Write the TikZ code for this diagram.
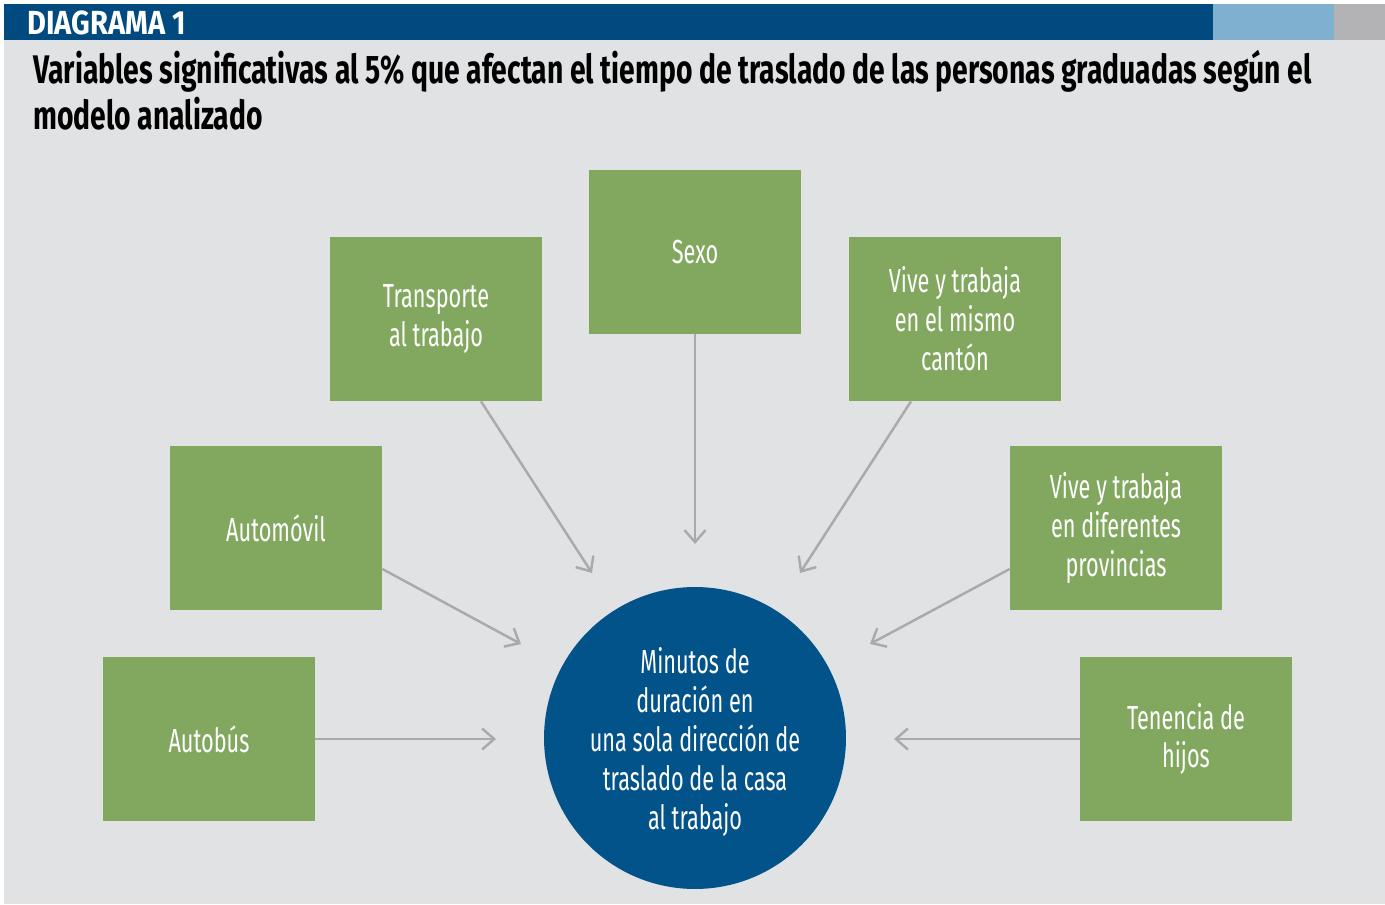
\documentclass[tikz,border=0pt]{standalone}
\usepackage{fontspec}
\setmainfont{Fira Sans}[FakeStretch=0.65]
\newfontfamily\titlefont{Fira Sans}[FakeStretch=0.709]
\newfontfamily\headfont{Fira Sans}[FakeStretch=0.87]
\usetikzlibrary{arrows.meta}
\definecolor{headblue}{HTML}{004A7F}
\definecolor{circblue}{HTML}{02538A}
\definecolor{boxgreen}{HTML}{82A860}
\definecolor{bggray}{HTML}{E1E2E4}
\definecolor{lightblue}{HTML}{7FB0CF}
\definecolor{hgray}{HTML}{B3B3B5}
\definecolor{arrgray}{HTML}{AAAAAA}
\begin{document}
\begin{tikzpicture}[x=0.02cm,y=-0.02cm,
  box/.style={fill=boxgreen, minimum width=4.24cm, minimum height=3.28cm, inner sep=0pt,
    text=white, align=center, font=\fontsize{19}{22.1}\selectfont},
  hub/.style={circle, fill=circblue, minimum size=6.04cm, inner sep=0pt},
  hubtext/.style={inner sep=0pt, text=white, align=center, font=\fontsize{19}{22.1}\selectfont},
  arr/.style={draw=arrgray, line width=1.4pt,
    -{Straight Barb[length=0.24cm, width=0.42cm, line width=1.4pt]}}
  ]
  \useasboundingbox (0,0) rectangle (1385,905);
  \fill[white] (0,0) rectangle (1385,905);
  \fill[bggray] (4,40) rectangle (1385,904);
  \fill[headblue] (4,4) rectangle (1213,40);
  \fill[lightblue] (1213,4) rectangle (1334,40);
  \fill[hgray] (1334,4) rectangle (1385,40);
  \node[anchor=west, text=white, inner sep=0pt, font=\headfont\bfseries\fontsize{19}{22}\selectfont]
    (head) at (27,23) {DIAGRAMA 1};
  \node[anchor=north west, inner sep=0pt, align=left, font=\titlefont\bfseries\fontsize{22.7}{26}\selectfont]
    (title) at (33,50) {Variables significativas al 5\% que afectan el tiempo de traslado de las personas graduadas según el\\modelo analizado};

  \node[box] (trans) at (436,319) {Transporte\\al trabajo};
  \node[box] (sexo) at (695,252) {Sexo};
  \node[box] (mismo) at (955,319) {Vive y trabaja\\en el mismo\\cantón};
  \node[box] (auto) at (276,528) {Automóvil};
  \node[box] (dif) at (1116,528) {Vive y trabaja\\en diferentes\\provincias};
  \node[box] (bus) at (209,739) {Autobús};
  \node[box] (hijos) at (1186,739) {Tenencia de\\hijos};
  \node[hub] (hub) at (695,738) {};
  \node[hubtext] (hubtxt) at (695,742) {Minutos de\\duración en\\una sola dirección de\\traslado de la casa\\al trabajo};

  \coordinate (t1) at (592,573);
  \coordinate (t2) at (695,544);
  \coordinate (t3) at (800,573);
  \coordinate (t4) at (521,644);
  \coordinate (t5) at (870,644);
  \coordinate (t6) at (496,739);
  \coordinate (t7) at (894,739);

  \draw[arr] ([xshift=0.9cm]trans.south) -- (t1);
  \draw[arr] (sexo.south) -- (t2);
  \draw[arr] ([xshift=-0.88cm]mismo.south) -- (t3);
  \draw[arr] ([yshift=-0.82cm]auto.east) -- (t4);
  \draw[arr] ([yshift=-0.82cm]dif.west) -- (t5);
  \draw[arr] (bus.east) -- (t6);
  \draw[arr] (hijos.west) -- (t7);
\end{tikzpicture}
\end{document}
